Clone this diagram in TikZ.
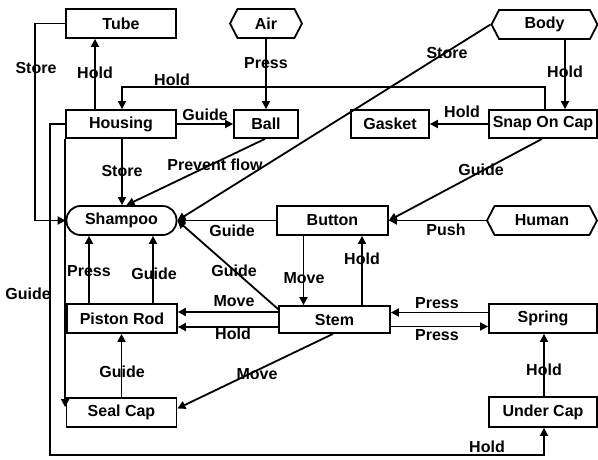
\documentclass[tikz,border=0pt]{standalone}
\usepackage{fontspec}
\setmainfont{Liberation Sans}
\usetikzlibrary{arrows.meta,calc,shapes.symbols}
\begin{document}
\begin{tikzpicture}[x=1pt,y=-1pt,
 every node/.style={font=\fontsize{16}{19}\selectfont\bfseries},
 box/.style={draw, line width=1.8pt, minimum height=29pt, inner sep=0pt},
 hexbox/.style={draw, signal, signal to=west and east, signal pointer angle=125, line width=1.8pt, minimum height=29pt, inner sep=0pt},
 pill/.style={draw, rounded corners=14pt, line width=1.8pt, minimum height=29pt, inner sep=0pt},
 arr/.style={line width=1.8pt, -{Triangle[length=8pt,width=8pt]}},
 lab/.style={inner sep=1pt}
]
\fill[white] (0,0) rectangle (598,460);
\useasboundingbox (0,0) rectangle (598,460);

% nodes
\node[box, minimum width=110pt] (tube) at (121,23.5) {Tube};
\node[hexbox, minimum width=72pt] (air) at (266,23.5) {Air};
\node[hexbox, minimum width=106pt] (body) at (544.5,24.5) {Body};
\node[box, minimum width=110pt, minimum height=28pt] (housing) at (121,124) {Housing};
\node[box, minimum width=64pt, minimum height=28pt] (ball) at (266,124) {Ball};
\node[box, minimum width=78pt, minimum height=28pt] (gasket) at (390,124) {Gasket};
\node[box, minimum width=108pt, minimum height=28pt] (snap) at (543,124) {Snap On Cap};
\node[pill, minimum width=110pt] (shampoo) at (121.5,220.5) {Shampoo};
\node[box, minimum width=111pt] (button) at (332.5,220.5) {Button};
\node[hexbox, minimum width=110pt] (human) at (542,220.5) {Human};
\node[box, minimum width=110pt] (piston) at (122,318.5) {Piston Rod};
\node[box, minimum width=111pt, minimum height=27pt] (stem) at (334.5,319.5) {Stem};
\node[box, minimum width=108pt] (spring) at (543,318.5) {Spring};
\node[box, minimum width=110pt] (seal) at (121.5,412.5) {Seal Cap};
\node[box, minimum width=108pt, minimum height=30pt] (under) at (543,412) {Under Cap};

% helper coordinates
\coordinate (c1) at ($(button.south)+(-29,0)$);
\coordinate (c2) at ($(stem.north)+(27.5,0)$);
\coordinate (c3) at ($(stem.west)+(0,-7.5)$);
\coordinate (c4) at ($(stem.west)+(0,7.5)$);
\coordinate (c5) at ($(piston.north)+(-33,0)$);
\coordinate (c6) at ($(piston.north)+(31,0)$);
\coordinate (c7) at ($(spring.west)+(0,-6)$);
\coordinate (c8) at ($(stem.east)+(0,7)$);
\coordinate (c9) at ($(under.north)+(1,0)$);
\coordinate (c10) at (seal.north);
\coordinate (c11) at ($(seal.north west)+(0,10)$);
\coordinate (c12) at (50,455);
\coordinate (c14) at ($(housing.north)+(-26,0)$);
\coordinate (c15) at ($(body.south)+(20.5,0)$);
\coordinate (c16) at ($(housing.south)+(1,0)$);

% connectors
\draw[arr] (tube.west) -| ($(shampoo.west)+(-31,0)$) -- (shampoo.west) node[lab] at (36,68) {Store};
\draw[arr] (c14) -- (c14 |- tube.south) node[lab] at (95,73) {Hold};
\draw[arr] ($(snap.north)+(2,0)$) -- ++(0,-22) -| ($(housing.north)+(1,0)$) node[lab] at (172,80) {Hold};
\draw[arr] (c15) -- (c15 |- snap.north) node[lab] at (565,72) {Hold};
\draw[arr] (air.south) -- (ball.north) node[lab] at (266,63) {Press};
\draw[arr] (housing.east) -- (ball.west) node[lab] at (205,115) {Guide};
\draw[arr] (snap.west) -- (gasket.east) node[lab] at (462,112) {Hold};
\draw[arr] (c16) -- (c16 |- shampoo.north) node[lab] at (122,171) {Store};
\draw[arr] ($(ball.south)+(-1,0)$) -- ($(shampoo.north)+(5,0)$) node[lab] at (215,165) {Prevent flow};
\draw[arr] (body.west) -- (shampoo.east) node[lab] at (447,53) {Store};
\draw[arr] ($(snap.south)+(-1,0)$) -- (button.east) node[lab] at (481,170) {Guide};
\draw[arr] (human.west) -- (button.east) node[lab] at (446,230) {Push};
\draw[arr] (button.west) -- (shampoo.east) node[lab] at (232,231) {Guide};
\draw[arr] (c1) -- (c1 |- stem.north) node[lab] at (304,278) {Move};
\draw[arr] (c2) -- (c2 |- button.south) node[lab] at (362,259) {Hold};
\draw[arr] ($(stem.north west)+(0,4)$) -- (shampoo.east) node[lab] at (234,271) {Guide};
\draw[arr] (c3) -- (c3 -| piston.east) node[lab] at (234,301) {Move};
\draw[arr] (c4) -- (c4 -| piston.east) node[lab] at (233,334) {Hold};
\draw[arr] (c5) -- (c5 |- shampoo.south) node[lab] at (89,271) {Press};
\draw[arr] (c6) -- (c6 |- shampoo.south) node[lab] at (154,274) {Guide};
\draw[arr] (c10) -- (c10 |- piston.south) node[lab] at (122,372) {Guide};
\draw[arr] ($(stem.south)+(-1.5,0)$) -- ($(seal.east)+(0,-4)$) node[lab] at (257,374) {Move};
\draw[arr] (c7) -- (c7 -| stem.east) node[lab] at (437,303) {Press};
\draw[arr] (c8) -- (c8 -| spring.west) node[lab] at (437,335) {Press};
\draw[arr] (c9) -- (c9 |- spring.south) node[lab] at (544,370) {Hold};
\draw[arr] (housing.south west) -- (housing.south west |- c11) node[lab] at (28,294) {Guide};
\draw[arr] (housing.west) -| (c12) -| ($(under.south)+(1,0)$) node[lab] at (487,447) {Hold};
\end{tikzpicture}
\end{document}
